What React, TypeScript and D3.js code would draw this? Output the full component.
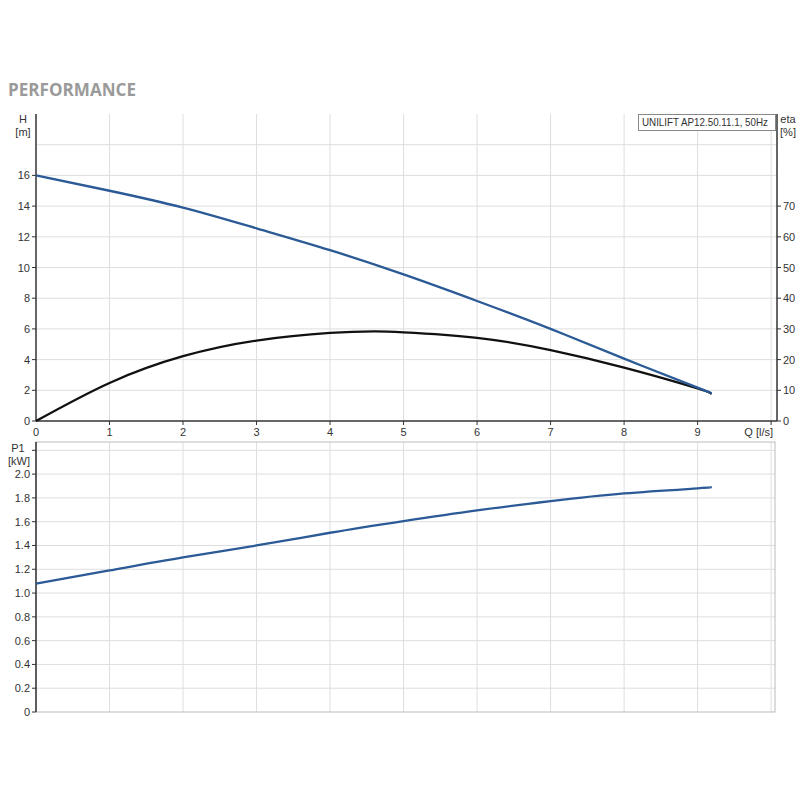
import React from 'react';
import * as d3 from 'd3';

// curve points
const qFlow = [0, 1, 2, 3, 4, 5, 6, 7, 8, 9, 9.17];
const headM = [16.0, 15.0, 13.9, 12.55, 11.13, 9.55, 7.82, 6.0, 4.06, 2.17, 1.84];
const qEta = [0, 1, 2, 3, 4, 4.6, 5, 6, 7, 8, 9, 9.17];
const etaPct = [0, 12.4, 21.1, 26.2, 28.7, 29.2, 28.9, 27.1, 23.1, 17.4, 10.6, 8.8];
const p1Kw = [1.08, 1.19, 1.3, 1.4, 1.507, 1.605, 1.695, 1.773, 1.838, 1.88, 1.89];

const qTicks = [0, 1, 2, 3, 4, 5, 6, 7, 8, 9];
const hTicks = [0, 2, 4, 6, 8, 10, 12, 14, 16];
const etaTicks = [0, 10, 20, 30, 40, 50, 60, 70];
const pTicks = [0, 0.2, 0.4, 0.6, 0.8, 1.0, 1.2, 1.4, 1.6, 1.8, 2.0];

const BLUE = '#2b5a96';
const AXIS = '#333';
const GRID = '#dedede';
const FONT = 'Liberation Sans, Arial, sans-serif';

const App: React.FC = () => {
  const x = d3.scaleLinear().domain([0, 10.08]).range([36, 777]);
  const yH = d3.scaleLinear().domain([0, 20]).range([421, 114]);
  const yEta = d3.scaleLinear().domain([0, 100]).range([421, 114]);
  const yP = d3.scaleLinear().domain([0, 2.27]).range([712, 442]);

  const hLine = d3.line<number>()
    .x((d, i) => x(qFlow[i]))
    .y(d => yH(d))
    .curve(d3.curveNatural);
  const etaLine = d3.line<number>()
    .x((d, i) => x(qEta[i]))
    .y(d => yEta(d))
    .curve(d3.curveNatural);
  const pLine = d3.line<number>()
    .x((d, i) => x(qFlow[i]))
    .y(d => yP(d))
    .curve(d3.curveNatural);

  const gridQ = d3.range(1, 11);
  const gridH = d3.range(2, 20, 2);
  const gridP = [...pTicks.slice(1), 2.2];

  return (
    <svg width={800} height={800} style={{ position: 'absolute', left: 0, top: 0, background: '#fff' }}
      fontFamily={FONT}>
      <text x={8} y={96} fontFamily="Open Sans, sans-serif" fontWeight={700} fontSize={17.5} fill="#9a9a9a"
        textLength={128} lengthAdjust="spacingAndGlyphs">
        PERFORMANCE
      </text>

      {/* top panel: H and eta */}
      <g>
        {gridQ.map(q => (
          <line key={'vq' + q} x1={x(q)} x2={x(q)} y1={114} y2={421} stroke={GRID} />
        ))}
        {gridH.map(h => (
          <line key={'gh' + h} x1={36} x2={777} y1={yH(h)} y2={yH(h)} stroke={GRID} />
        ))}
        <line x1={36} x2={36} y1={114} y2={421} stroke={AXIS} strokeWidth={1.5} />
        <line x1={777} x2={777} y1={114} y2={421} stroke={AXIS} strokeWidth={1.5} />
        <line x1={36} x2={777} y1={421} y2={421} stroke={AXIS} strokeWidth={1.5} />
        {hTicks.map(h => (
          <g key={'th' + h}>
            <line x1={32} x2={36} y1={yH(h)} y2={yH(h)} stroke={AXIS} />
            <text x={30} y={yH(h) + 4} textAnchor="end" fontSize={11} fill={AXIS}>{h}</text>
          </g>
        ))}
        {etaTicks.map(e => (
          <g key={'te' + e}>
            <line x1={777} x2={781} y1={yEta(e)} y2={yEta(e)} stroke={AXIS} />
            <text x={783} y={yEta(e) + 4} fontSize={11} fill={AXIS}>{e}</text>
          </g>
        ))}
        {gridQ.map(q => (
          <line key={'tq' + q} x1={x(q)} x2={x(q)} y1={421} y2={425} stroke={AXIS} />
        ))}
        {qTicks.map(q => (
          <text key={'lq' + q} x={x(q)} y={436} textAnchor="middle" fontSize={11} fill={AXIS}>{q}</text>
        ))}
        <text x={773} y={436} textAnchor="end" fontSize={11} fill={AXIS}>Q [l/s]</text>
        <text x={23} y={123} textAnchor="middle" fontSize={11} fill={AXIS}>H</text>
        <text x={23} y={136} textAnchor="middle" fontSize={11} fill={AXIS}>[m]</text>
        <text x={788} y={123} textAnchor="middle" fontSize={11} fill={AXIS}>eta</text>
        <text x={788} y={136} textAnchor="middle" fontSize={11} fill={AXIS}>[%]</text>

        <rect x={638.5} y={114.5} width={137} height={16} fill="#fff" stroke="#888" />
        <text x={642} y={126} fontSize={10.5} fill={AXIS} textLength={126} lengthAdjust="spacingAndGlyphs">
          UNILIFT AP12.50.11.1, 50Hz
        </text>

        <path d={etaLine(etaPct) ?? ''} fill="none" stroke="#111" strokeWidth={2.3} />
        <path d={hLine(headM) ?? ''} fill="none" stroke={BLUE} strokeWidth={2.3} />
      </g>

      {/* bottom panel: P1 */}
      <g>
        {gridQ.map(q => (
          <line key={'vp' + q} x1={x(q)} x2={x(q)} y1={442} y2={712} stroke={GRID} />
        ))}
        {gridP.map(p => (
          <line key={'gp' + p} x1={36} x2={775} y1={yP(p)} y2={yP(p)} stroke={GRID} />
        ))}
        <rect x={36} y={442} width={739} height={270} fill="none" stroke="#bbb" />
        <line x1={36} x2={36} y1={442} y2={712} stroke={AXIS} strokeWidth={1.5} />
        {[...pTicks, 2.2].map(p => (
          <line key={'tp' + p} x1={32} x2={36} y1={yP(p)} y2={yP(p)} stroke={AXIS} />
        ))}
        {pTicks.map(p => (
          <text key={'lp' + p} x={30} y={yP(p) + 4} textAnchor="end" fontSize={11} fill={AXIS}>
            {p === 0 ? '0' : p.toFixed(1)}
          </text>
        ))}
        <text x={18} y={452} textAnchor="middle" fontSize={11} fill={AXIS}>P1</text>
        <text x={19} y={465} textAnchor="middle" fontSize={11} fill={AXIS}>[kW]</text>

        <path d={pLine(p1Kw) ?? ''} fill="none" stroke={BLUE} strokeWidth={2.3} />
      </g>
    </svg>
  );
};

export default App;
